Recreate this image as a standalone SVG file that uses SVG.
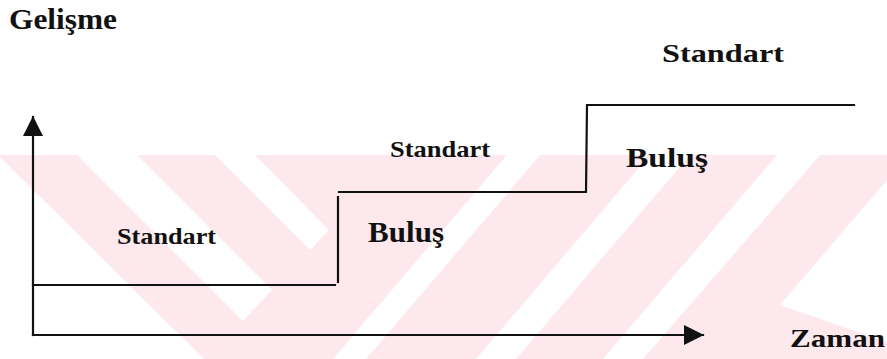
<svg xmlns="http://www.w3.org/2000/svg" width="887" height="359" viewBox="0 0 887 359">
  <style>
    .lbl { font-family: "Liberation Serif", "Times New Roman", serif; font-weight: bold; fill: #111; }
    .ln { fill: none; stroke: #111; stroke-width: 2.2; stroke-linecap: square; }
    .wm { fill: #fde9ed; }
    .gap { fill: #ffffff; }
  </style>
  <defs>
    <marker id="arrowHead" viewBox="0 0 20 20" refX="19" refY="10" markerWidth="20" markerHeight="20" markerUnits="userSpaceOnUse" orient="auto">
      <path d="M0,0 L20,10 L0,20 Z" fill="#111"/>
    </marker>
  </defs>

  <rect width="887" height="359" fill="#ffffff"/>

  <!-- pale striped background band -->
  <g id="background-stripes">
    <rect class="wm" x="0" y="155" width="887" height="204"/>
    <polygon class="gap" points="0,157 204,359 0,359"/>
    <polygon class="gap" points="77,155 137,155 272,290 243,321"/>
    <polygon class="gap" points="215,155 255,155 329,230 310,250"/>
    <polygon class="gap" points="507,155 540,155 366,359 333,359"/>
    <polygon class="gap" points="650,155 690,155 516,359 476,359"/>
    <polygon class="gap" points="777,155 820,155 643,359 603,359"/>
    <polygon class="gap" points="887,180 780,305 887,342"/>
  </g>

  <!-- axes and the stepped development line -->
  <g id="connectors">
    <line id="axis-y" class="ln" x1="33" y1="335" x2="33" y2="117" marker-end="url(#arrowHead)"/>
    <line id="axis-x" class="ln" x1="33" y1="335" x2="703" y2="335" marker-end="url(#arrowHead)"/>
    <path id="steps" class="ln" d="M33,285 L335,285 M338,282 L338,197 M339,192 L586,192 L587,105 L854,105"/>
  </g>

  <g id="label-gelisme"><text class="lbl" x="9" y="29" font-size="30" textLength="108" lengthAdjust="spacingAndGlyphs">Gelişme</text></g>
  <g id="label-standart-3"><text class="lbl" x="662" y="62" font-size="26" textLength="122" lengthAdjust="spacingAndGlyphs">Standart</text></g>
  <g id="label-standart-2"><text class="lbl" x="390" y="157" font-size="24" textLength="100" lengthAdjust="spacingAndGlyphs">Standart</text></g>
  <g id="label-standart-1"><text class="lbl" x="117" y="244" font-size="24" textLength="99" lengthAdjust="spacingAndGlyphs">Standart</text></g>
  <g id="label-bulus-1"><text class="lbl" x="368" y="242" font-size="30" textLength="76" lengthAdjust="spacingAndGlyphs">Buluş</text></g>
  <g id="label-bulus-2"><text class="lbl" x="626" y="167" font-size="27" textLength="82" lengthAdjust="spacingAndGlyphs">Buluş</text></g>
  <g id="label-zaman"><text class="lbl" x="790" y="347" font-size="26" textLength="95" lengthAdjust="spacingAndGlyphs">Zaman</text></g>
</svg>
